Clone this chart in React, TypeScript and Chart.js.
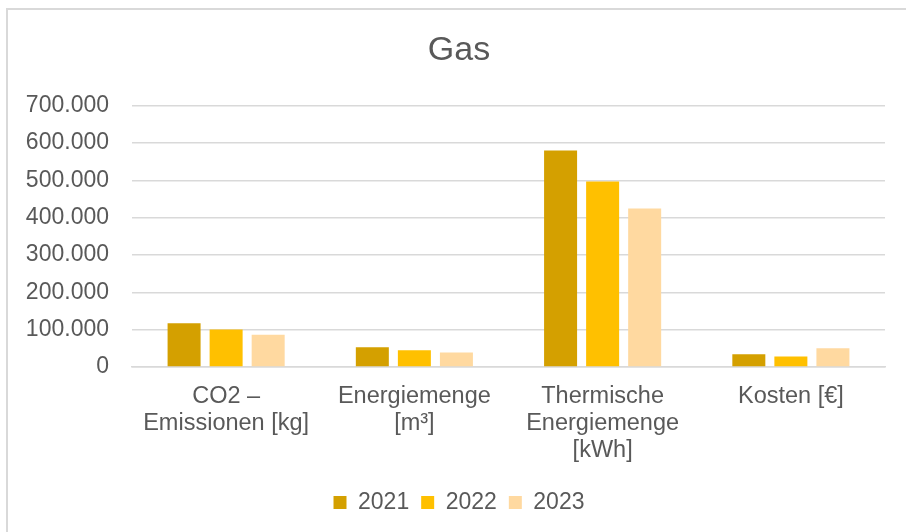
import React, { useEffect, useRef } from "react";
import { Chart, registerables } from "chart.js";

Chart.register(...registerables);

const categories: string[][] = [
  ["CO2 –", "Emissionen [kg]"],
  ["Energiemenge", "[m³]"],
  ["Thermische", "Energiemenge", "[kWh]"],
  ["Kosten [€]"],
];
const seriesNames = ["2021", "2022", "2023"];
const values2021 = [117000, 53000, 580000, 34000];
const values2022 = [100000, 45000, 497000, 28000];
const values2023 = [86000, 38600, 425000, 50000];
const seriesColors = ["#D4A000", "#FFC000", "#FFD9A0"];
const yMax = 700000;
const yStep = 100000;

const fmt = (v: number) =>
  String(Math.round(v)).replace(/\B(?=(\d{3})+(?!\d))/g, ".");

export default function App() {
  const ref = useRef<HTMLCanvasElement | null>(null);
  useEffect(() => {
    if (!ref.current) return;
    const textColor = "#595959";
    const font = "'Liberation Sans', Arial, sans-serif";
    const chart = new Chart(ref.current, {
      type: "bar",
      data: {
        labels: categories,
        datasets: [values2021, values2022, values2023].map((vals, i) => ({
          label: seriesNames[i],
          data: vals,
          backgroundColor: seriesColors[i],
          borderWidth: 0,
          categoryPercentage: 0.67,
          barPercentage: 0.785,
        })),
      },
      options: {
        responsive: false,
        animation: false,
        devicePixelRatio: 1,
        layout: { padding: { left: 20, right: 8, top: 0, bottom: 8 } },
        plugins: {
          title: {
            display: true,
            text: "Gas",
            color: textColor,
            font: { family: font, size: 34, weight: "normal" },
            padding: { top: 30, bottom: 35 },
          },
          legend: {
            position: "bottom",
            labels: {
              color: textColor,
              font: { family: font, size: 23 },
              boxWidth: 13,
              boxHeight: 13,
              padding: 12,
            },
          },
          tooltip: { enabled: false },
        },
        scales: {
          x: {
            grid: { display: false },
            border: { display: true, color: "#D9D9D9", width: 1.5 },
            ticks: {
              color: textColor,
              font: { family: font, size: 23.5, lineHeight: 1.15 },
              padding: 8,
              maxRotation: 0,
              autoSkip: false,
            },
            afterFit: (scale: any) => {
              scale.height += 7;
            },
          },
          y: {
            min: 0,
            max: yMax,
            border: { display: false },
            grid: { color: "#D9D9D9", lineWidth: 1.5, drawTicks: false },
            ticks: {
              stepSize: yStep,
              color: textColor,
              font: { family: font, size: 23 },
              padding: 23,
              callback: (v: any) => fmt(Number(v)),
            },
            afterFit: (scale: any) => {
              scale.width = 112;
            },
          },
          yRightSpacer: {
            type: "linear",
            position: "right",
            display: true,
            grid: { display: false, drawTicks: false },
            border: { display: false },
            ticks: { display: false },
            afterFit: (scale: any) => {
              scale.width = 13;
            },
          },
        },
      },
    });
    return () => chart.destroy();
  }, []);
  return (
    <div
      style={{
        position: "fixed",
        left: 0,
        top: 0,
        width: 906,
        height: 532,
        background: "#fff",
        overflow: "hidden",
      }}
    >
      <div
        style={{
          position: "absolute",
          left: 6,
          top: 8,
          width: 940,
          height: 560,
          border: "2px solid #D9D9D9",
        }}
      />
      <canvas
        ref={ref}
        width={906}
        height={532}
        style={{ position: "absolute", left: 0, top: 0, width: 906, height: 532 }}
      />
    </div>
  );
}
